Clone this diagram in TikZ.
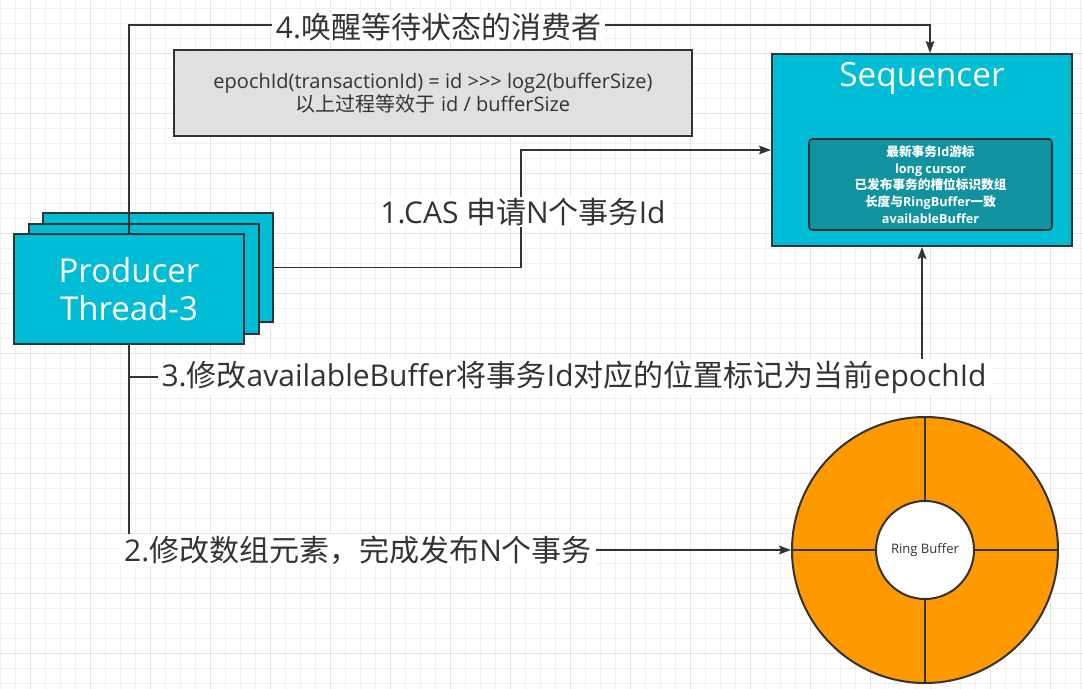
\documentclass[tikz,border=0pt]{standalone}
\usepackage{fontspec}
\setmainfont{Open Sans}
\newfontfamily\plainf{Open Sans}
\newfontfamily\zh{Noto Sans CJK SC}
\usetikzlibrary{arrows.meta}
\definecolor{ink}{HTML}{333333}
\definecolor{cyanf}{HTML}{00BCD4}
\definecolor{tealf}{HTML}{10939F}
\definecolor{grayf}{HTML}{E0E0E0}
\definecolor{orangef}{HTML}{FF9900}
\definecolor{gridmin}{HTML}{F0F0F0}
\definecolor{gridmaj}{HTML}{E3E3E3}
\begin{document}
\begin{tikzpicture}[x=0.75pt,y=-0.75pt,
  pbox/.style={draw=ink, line width=1.5pt, fill=cyanf, inner sep=0pt, minimum width=172.5pt, minimum height=82.5pt},
  conn/.style={draw=ink, line width=1.3pt},
  arr/.style={conn, -{Stealth[length=9pt,width=6.5pt,inset=1.5pt]}},
  lbl/.style={fill=white, text=ink, inner xsep=3pt, inner ysep=1pt, font=\fontsize{22.5}{26}\selectfont},
]
\useasboundingbox (0,0) rectangle (1083,689);
\fill[white] (0,0) rectangle (1083,689);
% grid
\foreach \k in {0,...,72} \draw[gridmin, line width=0.75pt] ({0.5+15*\k},0) -- ({0.5+15*\k},689);
\foreach \k in {0,...,45} \draw[gridmin, line width=0.75pt] (0,{8.3+15*\k}) -- (1083,{8.3+15*\k});
\foreach \k in {0,...,17} \draw[gridmaj, line width=0.75pt] ({30.5+60*\k},0) -- ({30.5+60*\k},689);
\foreach \k in {0,...,10} \draw[gridmaj, line width=0.75pt] (0,{53.3+60*\k}) -- (1083,{53.3+60*\k});

% producer stack
\node[pbox, minimum height=81.75pt] (p3) at (158,267.5) {};
\node[pbox] (p2) at (143.5,278.5) {};
\node[pbox, text=white, align=center, font=\fontsize{24.75}{28.5}\selectfont] (p1) at (129,289) {Producer\\Thread-3};

% sequencer
\node[draw=ink, line width=1.5pt, fill=cyanf, minimum width=225pt, minimum height=144pt, inner sep=0pt] (seq) at (922,150) {};
\node[text=white, font=\fontsize{25}{28}\selectfont, inner sep=0pt] (seqt) at (922,78) {Sequencer};
\node[draw=ink, line width=1.2pt, fill=tealf, rounded corners=2.5pt, minimum width=182.25pt, minimum height=68.25pt, inner sep=0pt, text=white, align=center, font=\fontsize{9.5}{12.4}\selectfont\bfseries] (cur) at (930.5,184.5)
  {{\zh 最新事务}Id{\zh 游标}\\long cursor\\{\zh 已发布事务的槽位标识数组}\\{\zh 长度与}RingBuffer{\zh 一致}\\availableBuffer};

% formula box
\node[draw=ink, line width=1.2pt, fill=grayf, minimum width=388.5pt, minimum height=64.5pt, inner sep=0pt, text=ink, align=center, font=\fontsize{15}{17.25}\selectfont\plainf] (formula) at (433,93)
  {epochId(transactionId) = id >>> log2(bufferSize)\\{\zh 以上过程等效于} id / bufferSize};

% ring buffer
\node[circle, draw=ink, line width=1.5pt, fill=orangef, minimum size=199.5pt, inner sep=0pt] (ring) at (925,550) {};
\node[circle, draw=ink, line width=1.5pt, fill=white, minimum size=73.5pt, inner sep=0pt, text=ink, font=\fontsize{9.8}{12}\selectfont] (hub) at (925,550) {Ring Buffer};
\draw[ink, line width=1.5pt] (ring.north) -- (hub.north);
\draw[ink, line width=1.5pt] (ring.south) -- (hub.south);
\draw[ink, line width=1.5pt] (ring.west) -- (hub.west);
\draw[ink, line width=1.5pt] (ring.east) -- (hub.east);

% connectors
\coordinate (c4a) at (129,25);
\coordinate (c4b) at (930,25);
\draw[arr] (p1.north) -- (c4a) -- (c4b) -- (c4b |- seq.north);
\coordinate (c1a) at (521,267.5);
\coordinate (c1b) at (521,150);
\draw[arr] (p3.east) -- (c1a) -- (c1b) -- (seq.west);
\coordinate (c3a) at (129,377);
\coordinate (c3b) at (922,377);
\draw[arr] (p1.south) -- (c3a) -- (c3b) -- (seq.south);
\coordinate (c2a) at (129,550);
\draw[arr] (p1.south) -- (c2a) -- (ring.west);

% labels
\node[lbl] (l4) at (438.5,27) {4.{\zh 唤醒等待状态的消费者}};
\node[lbl] (l1) at (523,212) {1.CAS {\zh 申请}N{\zh 个事务}Id};
\node[lbl] (l3) at (574,377) {3.{\zh 修改}availableBuffer{\zh 将事务}Id{\zh 对应的位置标记为当前}epochId};
\node[lbl] (l2) at (358,550) {2.{\zh 修改数组元素，完成发布}N{\zh 个事务}};
\end{tikzpicture}
\end{document}
